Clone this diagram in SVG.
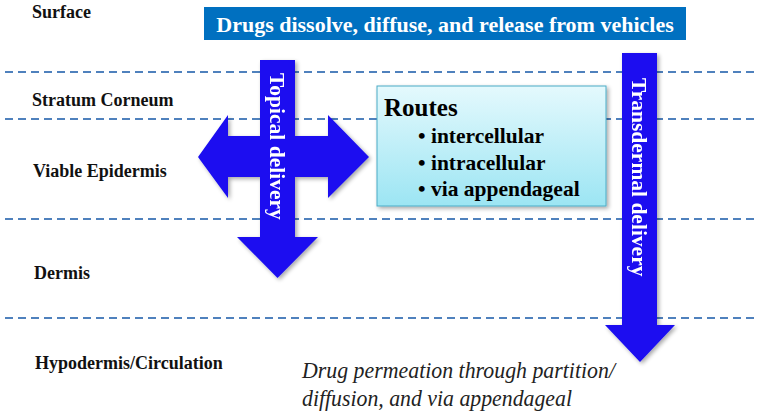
<svg xmlns="http://www.w3.org/2000/svg" width="762" height="414" viewBox="0 0 762 414">
<defs>
<linearGradient id="routesGrad" x1="0" y1="0" x2="0" y2="1">
<stop offset="0" stop-color="#e4f9fd"/>
<stop offset="1" stop-color="#9ce5f3"/>
</linearGradient>
<filter id="shadow" x="-10%" y="-10%" width="130%" height="130%">
<feGaussianBlur in="SourceAlpha" stdDeviation="2"/>
<feOffset dx="2" dy="2" result="b"/>
<feComponentTransfer><feFuncA type="linear" slope="0.35"/></feComponentTransfer>
<feMerge><feMergeNode/><feMergeNode in="SourceGraphic"/></feMerge>
</filter>
</defs>
<style>
.layer{font-family:"Liberation Serif","Times New Roman",serif;font-weight:bold;font-size:18px;fill:#111}
.dash{stroke:#4f81bd;stroke-width:2;stroke-dasharray:8 5;fill:none}
.arrow{fill:#1a0ff0}
.arrowtxt{font-family:"Liberation Serif","Times New Roman",serif;font-weight:bold;font-size:21.5px;fill:#fff}
.route{font-family:"Liberation Serif","Times New Roman",serif;font-weight:bold;font-size:21.5px;fill:#000}
.routehead{font-family:"Liberation Serif","Times New Roman",serif;font-weight:bold;font-size:25px;fill:#000}
.note{font-family:"Liberation Serif","Times New Roman",serif;font-style:italic;font-size:24px;fill:#222}
</style>
<rect width="762" height="414" fill="#fff"/>
<g id="layers">
<line class="dash" x1="5" y1="72" x2="757" y2="72"/>
<line class="dash" x1="5" y1="119" x2="757" y2="119"/>
<line class="dash" x1="5" y1="219" x2="757" y2="219"/>
<line class="dash" x1="5" y1="318" x2="757" y2="318"/>
<text class="layer" x="32" y="18">Surface</text>
<text class="layer" x="32" y="106">Stratum Corneum</text>
<text class="layer" x="33" y="177">Viable Epidermis</text>
<text class="layer" x="34" y="279">Dermis</text>
<text class="layer" x="35" y="369">Hypodermis/Circulation</text>
</g>
<g id="header">
<rect x="204" y="7" width="482" height="33" fill="#0070c0"/>
<text x="445" y="32" text-anchor="middle" font-family="'Liberation Serif','Times New Roman',serif" font-weight="bold" font-size="22" fill="#fff">Drugs dissolve, diffuse, and release from vehicles</text>
</g>
<g id="topical" filter="url(#shadow)">
<path class="arrow" d="M260,60 H295 V136 H328 V115 L369,157 L328,198 V177 H295 V237 H318 L277.5,278 L237,237 H260 V177 H228 V198 L198,157 L228,115 V136 H260 Z"/>
<text class="arrowtxt" transform="translate(270,73) rotate(90)">Topical delivery</text>
</g>
<g id="transdermal" filter="url(#shadow)">
<path class="arrow" d="M622,53 H657 V325 H675 L640,362 L605,325 H622 Z"/>
<text class="arrowtxt" transform="translate(632,78) rotate(90)">Transdermal delivery</text>
</g>
<g id="routes">
<rect x="377" y="86" width="229" height="120" fill="url(#routesGrad)" stroke="#4bacc6" stroke-width="1" filter="url(#shadow)"/>
<text class="routehead" x="384" y="116">Routes</text>
<text class="route" x="418" y="143">• intercellular</text>
<text class="route" x="418" y="170">• intracellular</text>
<text class="route" x="418" y="196">• via appendageal</text>
</g>
<g id="note">
<text class="note" x="302" y="378" textLength="313" lengthAdjust="spacingAndGlyphs">Drug permeation through partition/</text>
<text class="note" x="302" y="406" textLength="270" lengthAdjust="spacingAndGlyphs">diffusion, and via appendageal</text>
</g>
</svg>
